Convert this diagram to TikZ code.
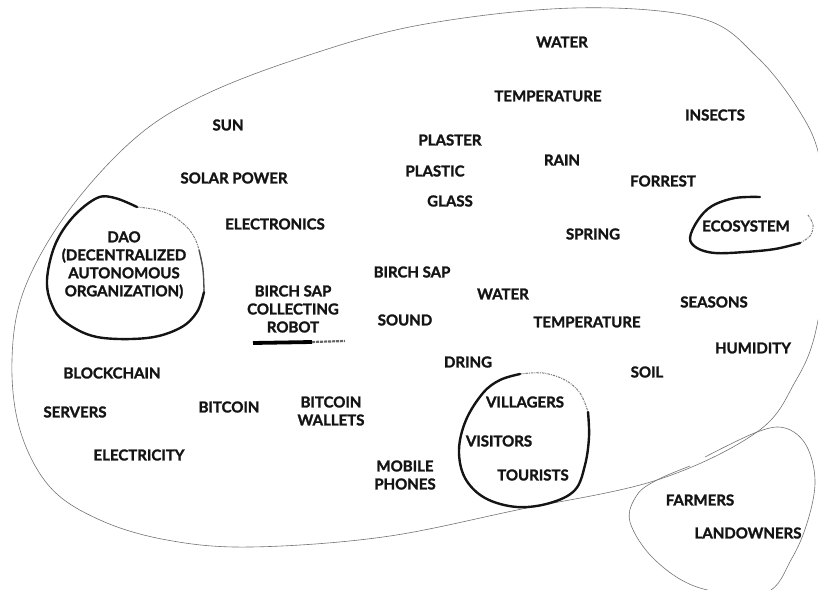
\documentclass[tikz,border=0pt]{standalone}
\usepackage{fontspec}
\newfontfamily\lblfont{Lato}[BoldFeatures={FakeBold=1.6}]
\begin{document}
\begin{tikzpicture}[x=1pt,y=-1pt,
  lbl/.style={font=\lblfont\bfseries\fontsize{15}{18}\selectfont, inner sep=0pt, align=center, text=black!92},
  outline/.style={draw=black!55, line width=0.6pt},
  brush/.style={draw=black!92, line width=2.4pt, line cap=round, line join=round},
  drybrush/.style={draw=black!50, line width=1pt, dash pattern=on 2.5pt off 1pt on 1pt off 1pt},
]
\useasboundingbox (0,0) rectangle (818,589);

% large outer region
\draw[outline] plot[smooth cycle, tension=0.6] coordinates {
  (12,360) (24,290) (67,213) (133,140) (200,97) (300,58) (420,25) (574,8)
  (700,18) (757,57) (800,112) (820,160) (827,240) (816,330) (795,382)
  (757,432) (657,480) (517,510) (383,537) (250,547) (167,540) (100,520)
  (50,487) (20,430)};

% small region (farmers)
\draw[outline] plot[smooth, tension=0.6] coordinates {
  (705,457) (757,432) (785,428) (806,445) (815,480) (808,520) (792,558)
  (765,593) (700,588) (655,560) (630,522) (637,495) (657,480) (690,466)};

% DAO circle
\draw[drybrush] plot[smooth, tension=0.6] coordinates {
  (137,207) (157,210) (176,218) (193,235) (202,262) (204,292)};
\draw[brush] plot[smooth, tension=0.6] coordinates {
  (137,207) (115,198) (97,198) (73,217) (55,245) (47,280) (52,305) (65,322)
  (97,337) (147,338) (180,328) (197,312) (204,292)};
\draw[draw=black!70, line width=1.3pt] plot[smooth, tension=0.6] coordinates {
  (204,292) (203,270) (199,250)};

% villagers circle
\draw[drybrush] plot[smooth, tension=0.6] coordinates {
  (520,374) (543,373) (565,380) (580,393) (588,412)};
\draw[brush] plot[smooth, tension=0.6] coordinates {
  (520,374) (500,380) (483,393) (466,420) (459,450) (465,478) (485,498)
  (517,507) (550,503) (575,490) (585,465) (589,437) (588,412)};

% ecosystem loop
\draw[drybrush] plot[smooth, tension=0.6] coordinates {
  (800,243) (810,236) (813,225) (808,215)};
\draw[brush] plot[smooth, tension=0.6] coordinates {
  (760,197) (735,198) (712,206) (698,220) (690,238) (697,248) (715,253)
  (745,252) (775,249) (800,243)};

% robot underline
\draw[draw=black, line width=3.8pt] (253,343) -- (312,342);
\draw[draw=black!60, line width=2.2pt, dash pattern=on 3pt off 1pt] (312,342) -- (345,341);

% labels
\node[lbl] (water1) at (562,42) {WATER};
\node[lbl] (temp1) at (548,96) {TEMPERATURE};
\node[lbl] (insects) at (715,115) {INSECTS};
\node[lbl] (sun) at (228,125) {SUN};
\node[lbl] (plaster) at (450,140) {PLASTER};
\node[lbl] (rain) at (562,160) {RAIN};
\node[lbl] (plastic) at (435,171) {PLASTIC};
\node[lbl] (forrest) at (663,181) {FORREST};
\node[lbl] (solar) at (234,178) {SOLAR POWER};
\node[lbl] (glass) at (450,201) {GLASS};
\node[lbl] (electronics) at (275,224) {ELECTRONICS};
\node[lbl] (ecosystem) at (746,226) {ECOSYSTEM};
\node[lbl] (spring) at (593,234) {SPRING};
\node[lbl] (dao) at (124,265) {DAO\\(DECENTRALIZED\\AUTONOMOUS\\ORGANIZATION)};
\node[lbl] (birchsap) at (412,272) {BIRCH SAP};
\node[lbl] (robot) at (293,309) {BIRCH SAP\\COLLECTING\\ROBOT};
\node[lbl] (water2) at (503,294) {WATER};
\node[lbl] (seasons) at (714,302) {SEASONS};
\node[lbl] (sound) at (405,320) {SOUND};
\node[lbl] (temp2) at (587,322) {TEMPERATURE};
\node[lbl] (humidity) at (753,348) {HUMIDITY};
\node[lbl] (dring) at (468,362) {DRING};
\node[lbl] (blockchain) at (112,373) {BLOCKCHAIN};
\node[lbl] (soil) at (647,372) {SOIL};
\node[lbl] (villagers) at (525,402) {VILLAGERS};
\node[lbl] (servers) at (75,412) {SERVERS};
\node[lbl] (bitcoin) at (229,407) {BITCOIN};
\node[lbl] (wallets) at (331,411) {BITCOIN\\WALLETS};
\node[lbl] (visitors) at (499,441) {VISITORS};
\node[lbl] (electricity) at (139,455) {ELECTRICITY};
\node[lbl] (tourists) at (533,475) {TOURISTS};
\node[lbl] (phones) at (405,475) {MOBILE\\PHONES};
\node[lbl] (farmers) at (700,500) {FARMERS};
\node[lbl] (landowners) at (748,533) {LANDOWNERS};
\end{tikzpicture}
\end{document}
